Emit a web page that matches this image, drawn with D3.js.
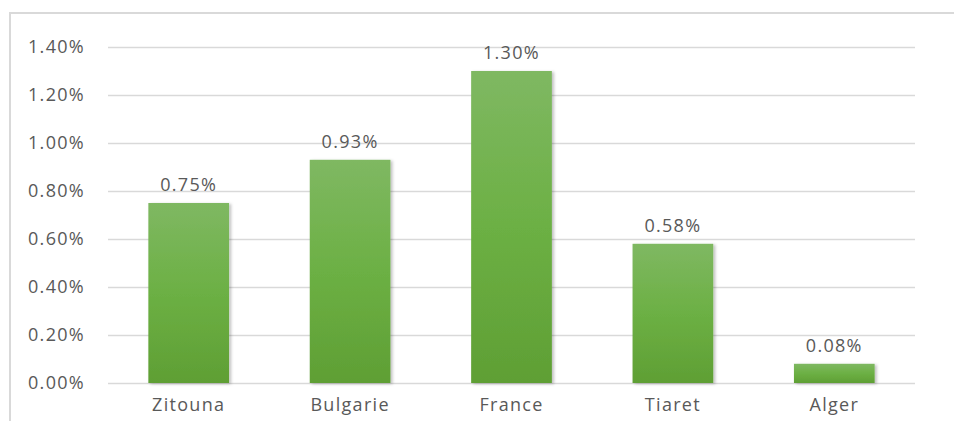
<!DOCTYPE html>
<html>
<head>
<meta charset="utf-8">
<script src="https://cdn.jsdelivr.net/npm/d3@7"></script>
<style>
  html, body { margin: 0; padding: 0; background: #fff; }
  svg { display: block; }
  text { font-family: "Open Sans", "DejaVu Sans", sans-serif; fill: #595959; }
</style>
</head>
<body>
<svg id="chart" width="954" height="421"></svg>
<script>
// Share per site
const categories = ["Zitouna", "Bulgarie", "France", "Tiaret", "Alger"];
const values = [0.75, 0.93, 1.30, 0.58, 0.08];
const yTicks = [0, 0.2, 0.4, 0.6, 0.8, 1.0, 1.2, 1.4];

const W = 954, H = 421;
const margin = { top: 47, right: 39, bottom: 38, left: 108 };
const svg = d3.select("#chart");

// outer chart frame
svg.append("rect")
  .attr("x", 10).attr("y", 13)
  .attr("width", W + 10).attr("height", H + 10)
  .attr("fill", "none").attr("stroke", "#d9d9d9").attr("stroke-width", 2);

const x = d3.scaleBand()
  .domain(categories)
  .range([margin.left, W - margin.right])
  .paddingInner(0.5).paddingOuter(0.25);

const y = d3.scaleLinear()
  .domain([0, 1.4])
  .range([H - margin.bottom, margin.top]);

const fmt = v => v.toFixed(2) + "%";
const FS = 18, LS = 1.3;

// gradient for bars
const defs = svg.append("defs");
const grad = defs.append("linearGradient")
  .attr("id", "barGrad").attr("x1", 0).attr("y1", 0).attr("x2", 0).attr("y2", 1);
grad.append("stop").attr("offset", "0%").attr("stop-color", "#7fb862");
grad.append("stop").attr("offset", "50%").attr("stop-color", "#6cb044");
grad.append("stop").attr("offset", "100%").attr("stop-color", "#5f9f34");

const shadow = defs.append("filter").attr("id", "shadow")
  .attr("x", "-20%").attr("y", "-20%").attr("width", "140%").attr("height", "140%");
shadow.append("feDropShadow")
  .attr("dx", 2).attr("dy", 1).attr("stdDeviation", 1.5)
  .attr("flood-color", "#000").attr("flood-opacity", 0.25);

// gridlines and y labels
const yAxis = d3.axisLeft(y)
  .tickValues(yTicks)
  .tickSize(-(W - margin.right - margin.left))
  .tickPadding(23)
  .tickFormat(fmt);

const gy = svg.append("g")
  .attr("transform", `translate(${margin.left},0)`)
  .call(yAxis);
gy.select(".domain").remove();
gy.selectAll(".tick line").attr("stroke", "#d9d9d9").attr("stroke-width", 1.5);
gy.selectAll(".tick text")
  .attr("font-size", FS).attr("letter-spacing", LS).attr("fill", "#595959");

// x labels
const xAxis = d3.axisBottom(x).tickSize(0).tickPadding(15);
const gx = svg.append("g")
  .attr("transform", `translate(0,${H - margin.bottom})`)
  .call(xAxis);
gx.select(".domain").remove();
gx.selectAll(".tick text")
  .attr("font-size", FS).attr("letter-spacing", LS).attr("fill", "#595959");

// bars
svg.append("g").selectAll("rect")
  .data(values)
  .join("rect")
  .attr("x", (d, i) => x(categories[i]))
  .attr("y", d => y(d))
  .attr("width", x.bandwidth())
  .attr("height", d => y(0) - y(d))
  .attr("fill", "url(#barGrad)")
  .attr("filter", "url(#shadow)");

// value labels
svg.append("g").selectAll("text")
  .data(values)
  .join("text")
  .attr("x", (d, i) => x(categories[i]) + x.bandwidth() / 2)
  .attr("y", d => y(d) - 12)
  .attr("text-anchor", "middle")
  .attr("font-size", FS).attr("letter-spacing", LS)
  .attr("fill", "#404040")
  .text(fmt);
</script>
</body>
</html>
